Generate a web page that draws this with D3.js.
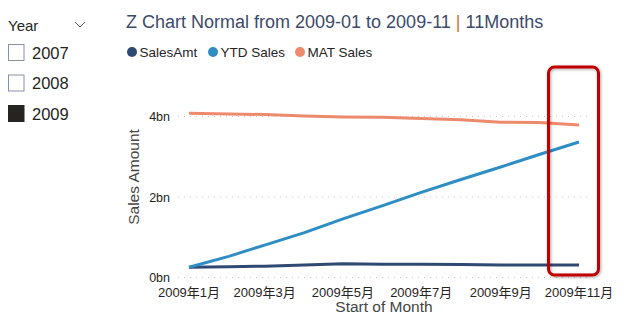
<!DOCTYPE html>
<html>
<head>
<meta charset="utf-8">
<script src="https://cdn.jsdelivr.net/npm/d3@7"></script>
<style>
  body { margin: 0; background: #fff; font-family: "Liberation Sans", Arial, sans-serif; }
  svg { display: block; }
</style>
</head>
<body>
<div id="chart"></div>
<script>
const years = ["2007", "2008", "2009"];
const selectedYear = "2009";

const months = ["2009-01", "2009-02", "2009-03", "2009-04", "2009-05", "2009-06",
  "2009-07", "2009-08", "2009-09", "2009-10", "2009-11"];

// monthly values in billions
const salesAmt = [0.256, 0.27, 0.28, 0.31, 0.34, 0.33, 0.33, 0.32, 0.31, 0.31, 0.31];
const ytdSales = [0.256, 0.526, 0.806, 1.116, 1.456, 1.786, 2.116, 2.436, 2.746, 3.056, 3.366];
const matSales = [4.08, 4.06, 4.05, 4.01, 3.99, 3.98, 3.95, 3.92, 3.86, 3.85, 3.79];

const yTicks = [0, 2, 4];

const seriesNames = ["SalesAmt", "YTD Sales", "MAT Sales"];
const seriesColors = ["#2E4A73", "#2E8EC4", "#EE8A6C"];
const seriesValues = [salesAmt, ytdSales, matSales];

const width = 625, height = 325;
const svg = d3.select("#chart").append("svg")
  .attr("width", width)
  .attr("height", height);

const defs = svg.append("defs");
const shadow = defs.append("filter").attr("id", "shadow")
  .attr("x", "-30%").attr("y", "-10%").attr("width", "160%").attr("height", "120%");
shadow.append("feDropShadow")
  .attr("dx", 1).attr("dy", 1).attr("stdDeviation", 1.5)
  .attr("flood-color", "#000").attr("flood-opacity", 0.35);

// year slicer
const slicer = svg.append("g");
slicer.append("text")
  .attr("x", 8).attr("y", 31)
  .attr("font-size", 15).attr("fill", "#252423")
  .text("Year");
slicer.append("path")
  .attr("d", "M75,22 L80,27 L85,22")
  .attr("fill", "none").attr("stroke", "#605E5C").attr("stroke-width", 1);

const itemY = d3.scalePoint().domain(years).range([52.5, 113.5]);
const items = slicer.selectAll("g.item")
  .data(years)
  .enter().append("g")
  .attr("class", "item")
  .attr("transform", d => `translate(0,${itemY(d)})`);
items.append("rect")
  .attr("x", 8.5).attr("y", -8).attr("width", 15.5).attr("height", 16)
  .attr("fill", d => d === selectedYear ? "#252423" : "#fff")
  .attr("stroke", d => d === selectedYear ? "#252423" : "#8A8FA8")
  .attr("stroke-width", 1);
items.append("text")
  .attr("x", 32).attr("y", 6)
  .attr("font-size", 16.5).attr("fill", "#252423")
  .text(d => d);

// title
const title = svg.append("text")
  .attr("x", 126).attr("y", 28)
  .attr("font-size", 18).attr("fill", "#3C4A6B");
title.append("tspan").text("Z Chart Normal from 2009-01 to 2009-11 ");
title.append("tspan").attr("fill", "#C0763A").text("|");
title.append("tspan").text(" 11Months");

// legend
const legendX = [132, 213, 300];
const legend = svg.append("g").selectAll("g")
  .data(seriesNames)
  .enter().append("g")
  .attr("transform", (d, i) => `translate(${legendX[i]},52)`);
legend.append("circle")
  .attr("r", 5)
  .attr("fill", (d, i) => seriesColors[i]);
legend.append("text")
  .attr("x", 7.5).attr("y", 4.5)
  .attr("font-size", 13.5).attr("fill", "#252423")
  .text(d => d);

// scales
const parseMonth = d3.timeParse("%Y-%m");
const dates = months.map(parseMonth);
const x = d3.scaleTime()
  .domain(d3.extent(dates))
  .range([189, 579]);
const y = d3.scaleLinear()
  .domain([0, 4])
  .range([277.5, 116.5]);

// gridlines
svg.append("g").selectAll("line")
  .data(yTicks)
  .enter().append("line")
  .attr("x1", 178).attr("x2", 592)
  .attr("y1", d => y(d)).attr("y2", d => y(d))
  .attr("stroke", "#C8C8C8")
  .attr("stroke-width", 1)
  .attr("stroke-dasharray", "1,5");

// y axis labels
svg.append("g").selectAll("text")
  .data(yTicks)
  .enter().append("text")
  .attr("x", 170).attr("y", d => y(d) + 4.5)
  .attr("text-anchor", "end")
  .attr("font-size", 12.5).attr("fill", "#252423")
  .text(d => d + "bn");

svg.append("text")
  .attr("transform", "translate(139,177) rotate(-90)")
  .attr("text-anchor", "middle")
  .attr("font-size", 15.5).attr("fill", "#444")
  .text("Sales Amount");

// x axis labels
const xTicks = dates.filter((d, i) => i % 2 === 0);
svg.append("g").selectAll("text")
  .data(xTicks)
  .enter().append("text")
  .attr("x", d => x(d)).attr("y", 297)
  .attr("text-anchor", "middle")
  .attr("font-size", 13).attr("fill", "#252423")
  .attr("font-family", "'Liberation Sans', 'Noto Sans CJK JP', sans-serif")
  .text(d => `${d.getFullYear()}年${d.getMonth() + 1}月`);

svg.append("text")
  .attr("x", 384).attr("y", 312)
  .attr("text-anchor", "middle")
  .attr("font-size", 15.5).attr("fill", "#444")
  .text("Start of Month");

// series lines
const line = d3.line()
  .x((d, i) => x(dates[i]))
  .y(d => y(d));

svg.append("g").selectAll("path")
  .data(seriesValues)
  .enter().append("path")
  .attr("d", line)
  .attr("fill", "none")
  .attr("stroke", (d, i) => seriesColors[i])
  .attr("stroke-width", 3)
  .attr("stroke-linejoin", "round");

// highlight box around the latest month
const lastX = x(dates[dates.length - 1]);
svg.append("rect")
  .attr("x", lastX - 30.5).attr("y", 67)
  .attr("width", 50).attr("height", 208)
  .attr("rx", 6)
  .attr("fill", "none")
  .attr("stroke", "#C00000")
  .attr("stroke-width", 3)
  .attr("filter", "url(#shadow)");
</script>
</body>
</html>
